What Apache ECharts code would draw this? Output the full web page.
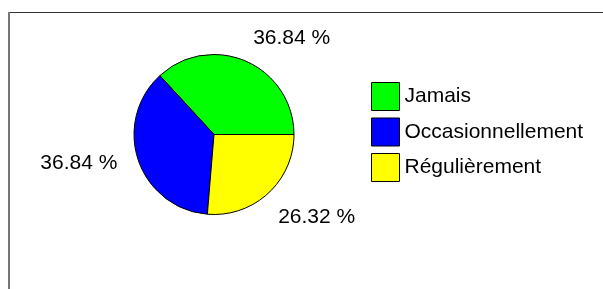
<!DOCTYPE html>
<html>
<head>
<meta charset="utf-8">
<script src="https://cdn.jsdelivr.net/npm/echarts@6/dist/echarts.min.js"></script>
<style>
    html, body { margin: 0; padding: 0; background: #fff; }
    #chart { width: 603px; height: 289px; }
</style>
</head>
<body>
<div id="chart"></div>
<script>
// categories and shares (%)
var categories = ["Jamais", "Occasionnellement", "Régulièrement"];
var shares = [36.84, 36.84, 26.32];
var colors = ["#00ff00", "#0000ff", "#ffff00"];

// label nudges from the slice edge
var labelShift = [[7, -23], [-21, 3], [10, 24]];

var chart = echarts.init(document.getElementById("chart"));

var option = {
    animation: false,
    backgroundColor: "#fff",
    textStyle: { fontFamily: "Liberation Sans, Arial, sans-serif" },
    graphic: [
        { type: "line", shape: { x1: 8, y1: 12.5, x2: 610, y2: 12.5 }, style: { stroke: "#333", lineWidth: 1 } },
        { type: "line", shape: { x1: 9, y1: 12, x2: 9, y2: 300 }, style: { stroke: "#777", lineWidth: 2 } }
    ],
    legend: {
        orient: "vertical",
        left: 371,
        top: 82,
        itemWidth: 28,
        itemHeight: 28,
        itemGap: 6.5,
        icon: "rect",
        padding: 0,
        itemStyle: { borderColor: "#000", borderWidth: 1 },
        textStyle: { color: "#000", fontSize: 21 },
        data: categories
    },
    series: [{
        type: "pie",
        center: [214, 134.5],
        radius: 80,
        startAngle: 0,
        clockwise: false,
        itemStyle: { borderColor: "#000", borderWidth: 1 },
        label: {
            show: true,
            position: "outside",
            distanceToLabelLine: 0,
            color: "#000",
            fontSize: 21,
            formatter: function (p) { return p.value.toFixed(2) + " %"; }
        },
        labelLine: { show: false, length: 0, length2: 0 },
        labelLayout: function (p) {
            return { dx: labelShift[p.dataIndex][0], dy: labelShift[p.dataIndex][1] };
        },
        emphasis: { disabled: true },
        data: categories.map(function (c, i) {
            return { name: c, value: shares[i], itemStyle: { color: colors[i] } };
        })
    }]
};

chart.setOption(option);
</script>
</body>
</html>
